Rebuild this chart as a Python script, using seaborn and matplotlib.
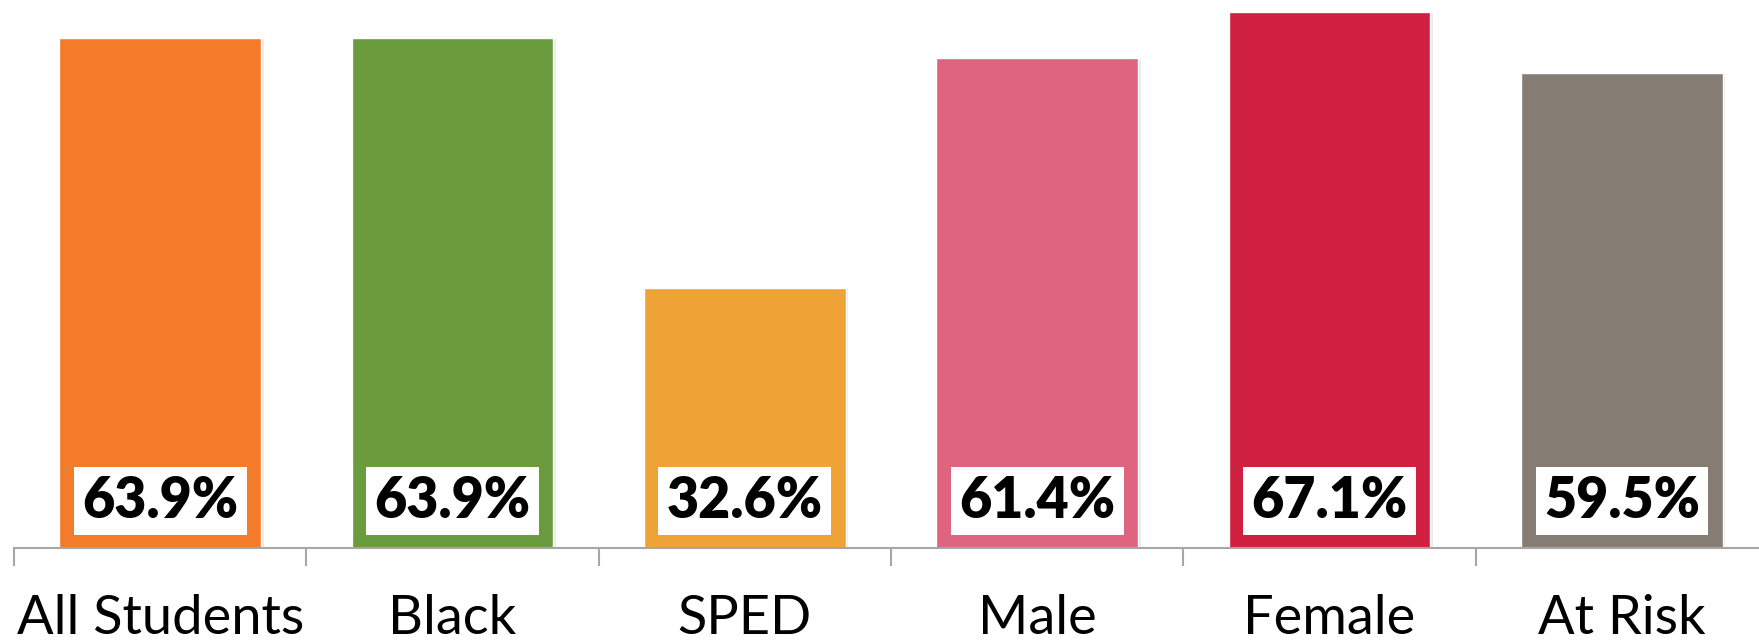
import pandas as pd
import matplotlib.pyplot as plt
import matplotlib.patheffects as pe
import seaborn as sns
from matplotlib.ticker import FixedLocator

# Chart values
groups = ['All Students', 'Black', 'SPED', 'Male', 'Female', 'At Risk']
rates = [63.9, 63.9, 32.6, 61.4, 67.1, 59.5]
colors = ['#F47B2A', '#6A9B3C', '#EFA336', '#DF6480', '#D0203F', '#857D73']

df = pd.DataFrame({'group': groups, 'rate': rates})

sns.set_style('white')
plt.rcParams['font.family'] = ['Lato', 'DejaVu Sans']

fig = plt.figure(figsize=(17.59, 6.41), dpi=100)
ax = fig.add_axes([14 / 1759, 93 / 641, 1754 / 1759, 548 / 641])

sns.barplot(data=df, x='group', y='rate', hue='group', palette=colors,
            width=0.69, legend=False, ax=ax, saturation=1)

# soft drop shadow like the original
for bar in ax.patches:
    bar.set_path_effects([pe.SimplePatchShadow(offset=(2, -1), shadow_rgbFace='#bbbbbb', alpha=0.3),
                          pe.Normal()])

# value labels in white boxes near the bottom of each bar
for i, r in enumerate(rates):
    ax.text(i, 5.9, f'{r:.1f}%', ha='center', va='center', fontsize=40,
            fontweight='heavy', color='black',
            bbox=dict(facecolor='white', edgecolor='none', pad=6))

ax.set_xlim(-0.5, len(groups) - 0.5)
ax.set_ylim(0, 68.6)
ax.set_xlabel('')
ax.set_ylabel('')
ax.set_yticks([])

for side in ['top', 'left', 'right']:
    ax.spines[side].set_visible(False)
ax.spines['bottom'].set_color('#A6A6A6')
ax.spines['bottom'].set_linewidth(1.5)

ax.xaxis.set_minor_locator(FixedLocator([i - 0.5 for i in range(len(groups) + 1)]))
ax.tick_params(axis='x', which='major', length=0, pad=33, labelsize=39, labelcolor='black')
ax.tick_params(axis='x', which='minor', length=13, width=1.5, color='#A6A6A6', bottom=True)

fig.savefig('out.png', dpi=100)
